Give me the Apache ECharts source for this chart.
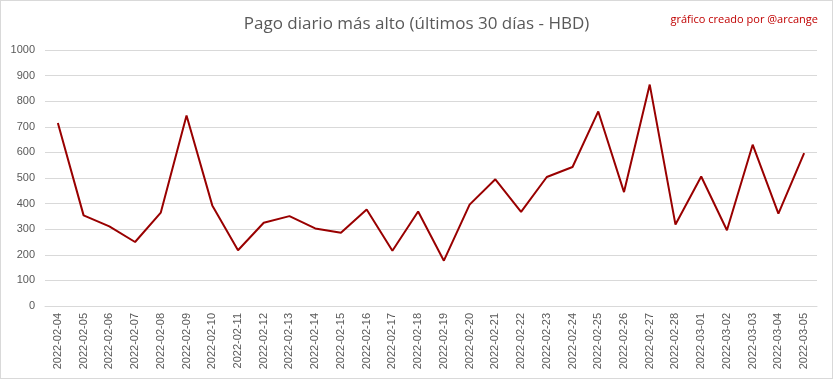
<!DOCTYPE html>
<html><head><meta charset="utf-8">
<script src="https://cdn.jsdelivr.net/npm/echarts@6/dist/echarts.min.js"></script>
<style>html,body{margin:0;padding:0;background:#fff}#c{width:833px;height:379px;box-sizing:border-box;border:1px solid #d9d9d9}</style>
</head><body><div id="c"></div>
<script>
const categories = ["2022-02-04","2022-02-05","2022-02-06","2022-02-07","2022-02-08","2022-02-09","2022-02-10","2022-02-11","2022-02-12","2022-02-13","2022-02-14","2022-02-15","2022-02-16","2022-02-17","2022-02-18","2022-02-19","2022-02-20","2022-02-21","2022-02-22","2022-02-23","2022-02-24","2022-02-25","2022-02-26","2022-02-27","2022-02-28","2022-03-01","2022-03-02","2022-03-03","2022-03-04","2022-03-05"];
const values = [715,354,311,250,365,744,393,218,325,351,303,286,377,216,369,177,396,495,368,504,543,760,445,865,318,506,296,630,361,597];
const titleText = "Pago diario más alto (últimos 30 días - HBD)";
const creditText = "gráfico creado por @arcange";
const chart = echarts.init(document.getElementById('c'));
chart.setOption({
  animation:false,
  title:[{text:titleText,left:'center',top:10,textStyle:{fontFamily:'Open Sans',fontWeight:'normal',fontSize:17,color:'#595959'}},
         {text:creditText,right:9,top:8,textStyle:{fontFamily:'Open Sans',fontWeight:'normal',fontSize:11,color:'#c00000'}}],
  grid:{left:44,right:15,top:49,bottom:72},
  xAxis:{type:'category',data:categories,boundaryGap:true,
    axisLine:{lineStyle:{color:'#d9d9d9'}},axisTick:{show:false},
    axisLabel:{rotate:90,interval:0,fontFamily:'Liberation Sans',fontSize:11,color:'#595959',margin:7}},
  yAxis:{type:'value',min:0,max:1000,interval:100,
    axisLine:{show:false},axisTick:{show:false},
    splitLine:{lineStyle:{color:'#d9d9d9'}},
    axisLabel:{formatter:v=>String(v),fontFamily:'Liberation Sans',fontSize:11,color:'#595959',margin:10}},
  series:[{type:'line',data:values,symbol:'none',lineStyle:{color:'#990000',width:2}}]
});
</script></body></html>
